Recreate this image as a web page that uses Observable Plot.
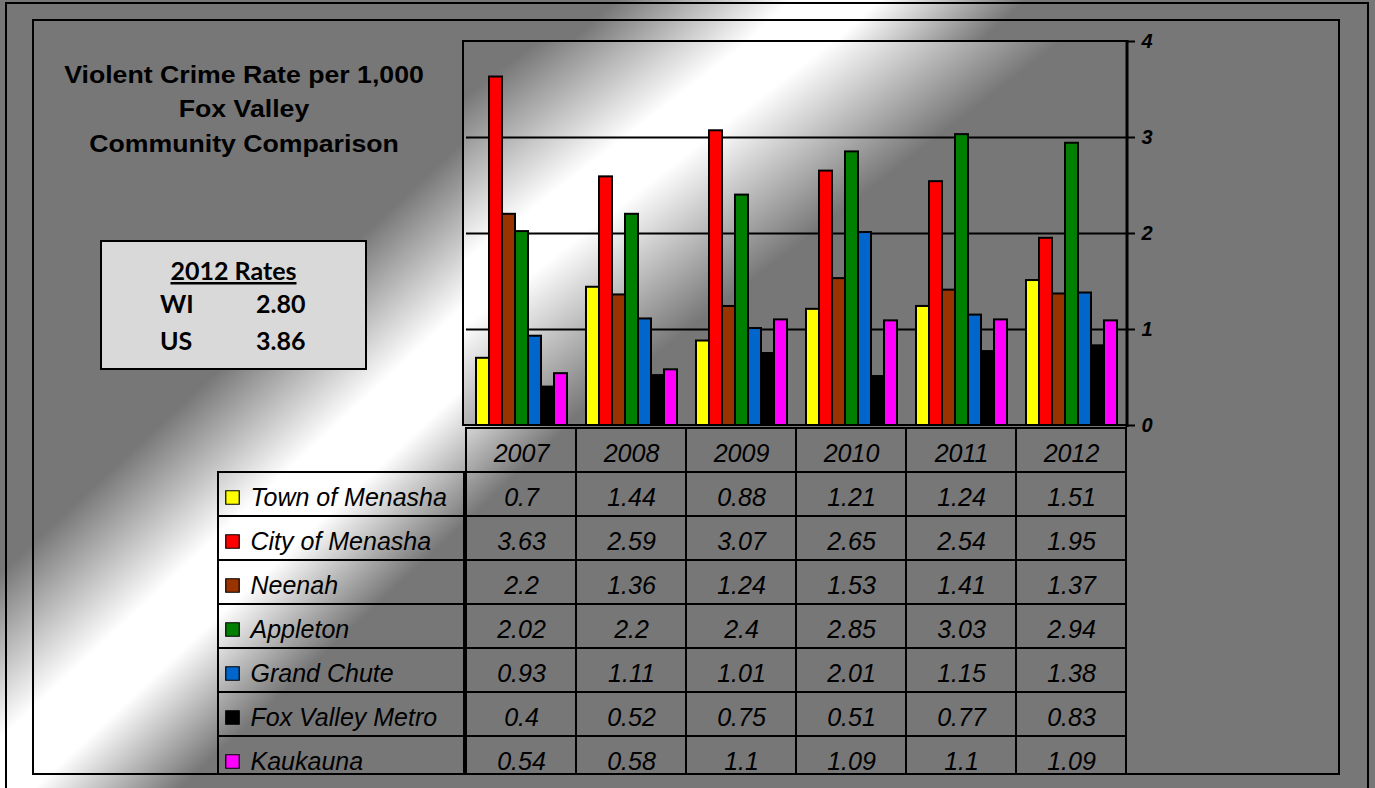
<!DOCTYPE html>
<html>
<head>
<meta charset="utf-8">
<script src="https://cdn.jsdelivr.net/npm/d3@7"></script>
<script src="https://cdn.jsdelivr.net/npm/@observablehq/plot@0.6"></script>
<style>
  body { margin: 0; background: #777; }
  #root { position: relative; width: 1375px; height: 788px; overflow: hidden; font-family: "Liberation Sans", Arial, sans-serif;
          background: linear-gradient(137deg, #777777 27.7%, #ffffff 35.7%, #ffffff 39.6%, #777777 46.2%); }
  #plotbg { position: absolute; left: 463px; top: 41px; width: 664px; height: 384px;
            background: linear-gradient(142.3deg, #777777 6.4%, #ffffff 24.7%, #ffffff 31.8%, #777777 51.6%); }
  .layer { position: absolute; left: 0; top: 0; }
  #bars line, #bars path { stroke-width: 2px; }
  #bars text { font: italic bold 20px "Liberation Sans", Arial, sans-serif; }
</style>
</head>
<body>
<div id="root">
  <div id="plotbg"></div>
  <svg id="bg" class="layer" width="1375" height="788" xmlns="http://www.w3.org/2000/svg">
    <rect x="6" y="3" width="1362" height="800" fill="none" stroke="#000" stroke-width="2"/>
    <rect x="33" y="20" width="1306" height="754" fill="none" stroke="#000" stroke-width="2"/>
    <rect x="463" y="41" width="664" height="384" fill="none" stroke="#000" stroke-width="2"/>
    <line x1="1127" y1="40" x2="1127" y2="427" stroke="#000" stroke-width="3"/>
    <g id="title" style="font-family:'Liberation Sans', Arial, sans-serif" font-weight="bold" font-size="23" text-anchor="middle" fill="#000" transform="translate(244,0) scale(1.16,1)"></g>
    <rect x="101" y="241" width="265" height="128" fill="#d9d9d9" stroke="#000" stroke-width="2"/>
    <g id="rates" style="font-family:Lato, 'Open Sans', sans-serif" font-weight="bold" font-size="25" fill="#000"></g>
  </svg>
  <div id="bars" class="layer"></div>
  <div id="table" class="layer" style="height:775px;overflow:hidden"></div>
  <div id="legend" class="layer" style="height:775px;overflow:hidden"></div>
</div>
<script>
// ---- data ----
const years = ["2007", "2008", "2009", "2010", "2011", "2012"];
const series = ["Town of Menasha", "City of Menasha", "Neenah", "Appleton", "Grand Chute", "Fox Valley Metro", "Kaukauna"];
const townOfMenasha  = [0.7, 1.44, 0.88, 1.21, 1.24, 1.51];
const cityOfMenasha  = [3.63, 2.59, 3.07, 2.65, 2.54, 1.95];
const neenah         = [2.2, 1.36, 1.24, 1.53, 1.41, 1.37];
const appleton       = [2.02, 2.2, 2.4, 2.85, 3.03, 2.94];
const grandChute     = [0.93, 1.11, 1.01, 2.01, 1.15, 1.38];
const foxValleyMetro = [0.4, 0.52, 0.75, 0.51, 0.77, 0.83];
const kaukauna       = [0.54, 0.58, 1.1, 1.09, 1.1, 1.09];
const colors = ["#FFFF00", "#FF0000", "#993300", "#008000", "#0066CC", "#000000", "#FF00FF"];
const gridValues = [1, 2, 3];
const titleLines = ["Violent Crime Rate per 1,000", "Fox Valley", "Community Comparison"];
const ratesTitle = "2012 Rates";
const rateLabels = ["WI", "US"];
const rateValues = ["2.80", "3.86"];

const seriesValues = [townOfMenasha, cityOfMenasha, neenah, appleton, grandChute, foxValleyMetro, kaukauna];
const rows = [];
series.forEach((s, i) => years.forEach((y, j) => rows.push({series: s, year: y, value: seriesValues[i][j]})));
const FONT = "Liberation Sans, Arial, sans-serif";

// ---- title & rates box (text) ----
const NS = "http://www.w3.org/2000/svg";
const tg = document.getElementById("title");
titleLines.forEach((t, i) => {
  const el = document.createElementNS(NS, "text");
  el.setAttribute("x", 0); el.setAttribute("y", 83 + i * 34.5);
  el.textContent = t; tg.appendChild(el);
});
const rg = document.getElementById("rates");
{
  const el = document.createElementNS(NS, "text");
  el.setAttribute("x", 233.5); el.setAttribute("y", 280);
  el.setAttribute("text-anchor", "middle");
  el.setAttribute("style", "text-decoration: underline");
  el.textContent = ratesTitle; rg.appendChild(el);
  rateLabels.forEach((lab, i) => {
    const a = document.createElementNS(NS, "text");
    a.setAttribute("x", 160); a.setAttribute("y", 313 + i * 37);
    a.textContent = lab; rg.appendChild(a);
    const b = document.createElementNS(NS, "text");
    b.setAttribute("x", 256); b.setAttribute("y", 313 + i * 37);
    b.textContent = rateValues[i]; rg.appendChild(b);
  });
}

// ---- bars ----
const bars = Plot.plot({
  width: 1375, height: 788,
  marginLeft: 464, marginRight: 248, marginTop: 41, marginBottom: 363,
  style: {background: "transparent", fontFamily: FONT, fontSize: "20px", fontWeight: "bold", fontStyle: "italic", color: "black", overflow: "visible"},
  facet: {data: rows, x: "year"},
  fx: {domain: years, padding: 0, axis: null},
  x: {domain: series, paddingInner: 0, paddingOuter: 0.66, axis: null},
  y: {domain: [0, 4], ticks: 4, axis: "right", tickSize: 8, tickPadding: 7, label: null, tickFormat: d => String(d)},
  color: {domain: series, range: colors},
  marks: [
    Plot.ruleY(gridValues, {stroke: "#000", strokeWidth: 2}),
    Plot.barY(rows, {x: "series", y: "value", fill: "series", stroke: "#000", strokeWidth: 2})
  ]
});
document.getElementById("bars").appendChild(bars);

// ---- data table ----
const cellRows = [];
years.forEach(y => cellRows.push({row: "hdr", col: y, label: y}));
rows.forEach(r => cellRows.push({row: r.series, col: r.year, label: String(r.value)}));
const rowDomain = ["hdr", ...series];
const table = Plot.plot({
  width: 1375, height: 788,
  marginLeft: 464, marginRight: 248, marginTop: 427, marginBottom: 7,
  style: {background: "transparent", color: "black", overflow: "visible"},
  x: {domain: years, range: [464, 1127], padding: 0, axis: null},
  y: {domain: rowDomain, range: [427, 781], padding: 0, axis: null},
  marks: [
    Plot.cell(cellRows, {x: "col", y: "row", fill: "none", stroke: "#000", strokeWidth: 2}),
    Plot.text(cellRows, {x: "col", y: "row", text: "label", fontSize: 25, fontStyle: "italic", fontFamily: FONT, fill: "#000", dy: 3})
  ]
});
document.getElementById("table").appendChild(table);

// ---- legend column ----
const legend = Plot.plot({
  width: 1375, height: 788,
  marginLeft: 218, marginRight: 911, marginTop: 471, marginBottom: 7,
  style: {background: "transparent", color: "black", overflow: "visible"},
  y: {domain: rowDomain, range: [427, 781], padding: 0, axis: null},
  color: {domain: series, range: colors},
  marks: [
    Plot.cell(series, {y: d => d, fill: "none", stroke: "#000", strokeWidth: 2}),
    Plot.dot(series, {y: d => d, frameAnchor: "left", dx: 14, dy: 3, symbol: "square", r: 7.6, fill: d => d, stroke: "#000", strokeWidth: 1.2}),
    Plot.text(series, {y: d => d, frameAnchor: "left", dx: 32, dy: 3, text: d => d, textAnchor: "start", fontSize: 25, fontStyle: "italic", fontFamily: FONT, fill: "#000"})
  ]
});
document.getElementById("legend").appendChild(legend);
</script>
</body>
</html>
